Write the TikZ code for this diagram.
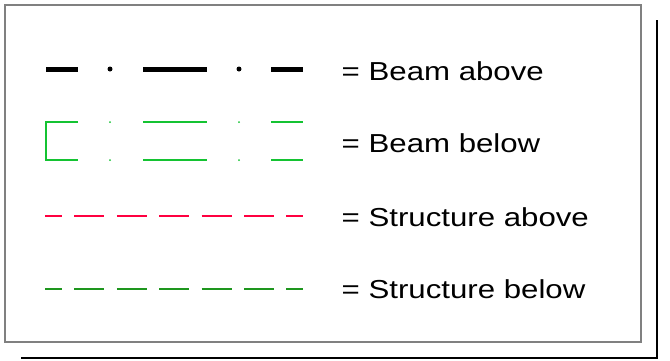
\documentclass[tikz,border=0pt]{standalone}
\usepackage{fontspec}
\setmainfont{Liberation Sans}
\definecolor{beamgreen}{RGB}{20,195,50}
\definecolor{structred}{RGB}{255,0,64}
\definecolor{structgreen}{RGB}{30,150,30}
\definecolor{framegray}{RGB}{128,128,128}
\begin{document}
\begin{tikzpicture}[x=1pt,y=-1pt,
  legendtext/.style={anchor=base west,inner sep=0pt,font=\fontsize{26}{31}\selectfont,xscale=1.2},
  beamabove/.style={line width=5pt,black},
  beambelow/.style={line width=1.5pt,beamgreen},
  structdash/.style={line width=2pt,dash pattern=on 30pt off 12.4pt,dash phase=13pt}]
\useasboundingbox (0,0) rectangle (670,360);
% frame and shadow
\draw[framegray,line width=1.5pt] (5,5) rectangle (641,342);
\draw[black,line width=2pt] (21,357.5) -- (656.5,357.5) -- (656.5,20);
% beam above
\draw[beamabove] (46,69) -- (78,69);
\draw[beamabove] (143,69) -- (207,69);
\draw[beamabove] (271,69) -- (303,69);
\fill (110,69) circle (2.5);
\fill (239,69) circle (2.5);
% beam below
\draw[beambelow] (78,122) -- (46,122) -- (46,160) -- (78,160);
\draw[beambelow] (143,122) -- (207,122);
\draw[beambelow] (143,160) -- (207,160);
\draw[beambelow] (271,122) -- (303,122);
\draw[beambelow] (271,160) -- (303,160);
\fill[beamgreen] (110,122) circle (1);
\fill[beamgreen] (110,160) circle (1);
\fill[beamgreen] (239,122) circle (1);
\fill[beamgreen] (239,160) circle (1);
% structure lines
\draw[structdash,structred] (45,216) -- (303,216);
\draw[structdash,structgreen] (45,289) -- (303,289);
% labels
\node[legendtext] (t1) at (341.5,80) {= Beam above};
\node[legendtext] (t2) at (341.5,152) {= Beam below};
\node[legendtext] (t3) at (341.5,226.5) {= Structure above};
\node[legendtext] (t4) at (341.5,298.5) {= Structure below};
\end{tikzpicture}
\end{document}
